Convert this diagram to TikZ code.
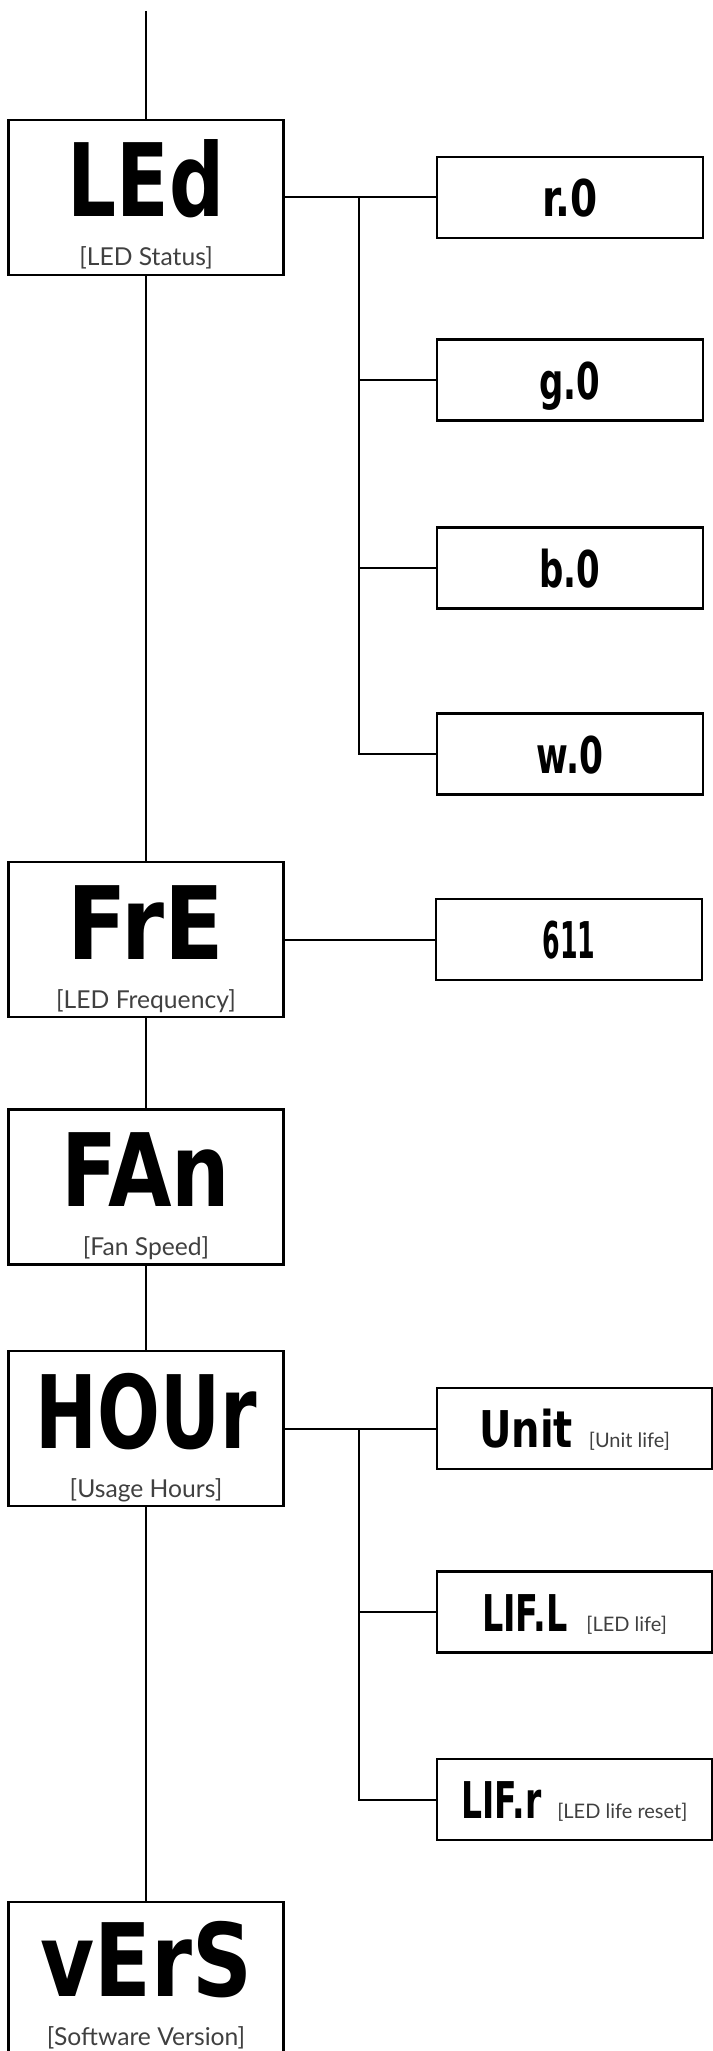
\documentclass[tikz,border=0pt]{standalone}
\usepackage{fontspec}
\setmainfont{Lato}
\newfontfamily\segfont{DejaVu Sans}
\definecolor{labgray}{HTML}{404040}
\newcommand\segtxt[3]{{\segfont\bfseries\addfontfeatures{FakeStretch=#2}\fontsize{#1}{#1}\selectfont #3}}
\newcommand\biglab[1]{{\fontsize{18.5pt}{18.5pt}\selectfont\color{labgray}#1}}
\newcommand\smalllab[1]{{\fontsize{15pt}{15pt}\selectfont\color{labgray}#1}}
\begin{document}
\begin{tikzpicture}[x=0.75pt,y=-0.75pt,
  mainbox/.style={draw, line width=1.9pt, minimum width=206.25pt, minimum height=116.25pt, inner sep=0pt},
  subbox/.style={draw, line width=1.9pt, minimum width=199.5pt, minimum height=60.75pt, inner sep=0pt},
  widebox/.style={draw, line width=1.9pt, minimum width=206.25pt, minimum height=60.75pt, inner sep=0pt},
  wire/.style={line width=1.5pt},
  txt/.style={inner sep=0pt, anchor=base}]
\useasboundingbox (0,0) rectangle (713,2051);

% main boxes
\node[mainbox] (LEd) at (146,197.5) {};
\node[txt] (LEdc) at (146,217) {\segtxt{76pt}{0.76}{LEd}};
\node[txt] (LEdl) at (146,266) {\biglab{[LED Status]}};

\node[mainbox] (FrE) at (146,939.5) {};
\node[txt] (FrEc) at (146,959) {\segtxt{76pt}{0.86}{FrE}};
\node[txt] (FrEl) at (146,1008) {\biglab{[LED Frequency]}};

\node[mainbox] (FAn) at (146,1187) {};
\node[txt] (FAnc) at (146,1206.5) {\segtxt{76pt}{0.81}{FAn}};
\node[txt] (FAnl) at (146,1255.5) {\biglab{[Fan Speed]}};

\node[mainbox] (HOUr) at (146,1428.5) {};
\node[txt] (HOUrc) at (146,1448) {\segtxt{76pt}{0.73}{HOUr}};
\node[txt] (HOUrl) at (146,1497) {\biglab{[Usage Hours]}};

\node[mainbox] (vErS) at (146,1979.5) {};
\node[txt] (vErSc) at (146,1996) {\segtxt{76pt}{0.82}{vErS}};
\node[txt] (vErSl) at (146,2045) {\biglab{[Software Version]}};

% LED children
\node[subbox] (r0) at (570,197.5) {};
\node[txt] (r0c) at (570,216.5) {\segtxt{38pt}{0.77}{r.0}};
\node[subbox] (g0) at (570,380) {};
\node[txt] (g0c) at (570,399) {\segtxt{38pt}{0.67}{g.0}};
\node[subbox] (b0) at (570,568) {};
\node[txt] (b0c) at (570,587) {\segtxt{38pt}{0.67}{b.0}};
\node[subbox] (w0) at (570,754) {};
\node[txt] (w0c) at (570,773) {\segtxt{38pt}{0.68}{w.0}};

% frequency child
\node[subbox] (f611) at (569,939.5) {};
\node[txt] (f611c) at (569,958.5) {\segtxt{38pt}{0.5}{611}};

% hour children
\node[widebox] (Unit) at (574.5,1428.5) {};
\node[txt] (Unitc) at (574.5,1447.5) {\segtxt{38pt}{0.79}{Unit}\hspace{12pt}\smalllab{[Unit life]}};
\node[widebox] (LIFL) at (574.5,1612) {};
\node[txt] (LIFLc) at (574.5,1631) {\segtxt{38pt}{0.66}{LIF.L}\hspace{14pt}\smalllab{[LED life]}};
\node[widebox] (LIFr) at (574.5,1799.5) {};
\node[txt] (LIFrc) at (574.5,1818.5) {\segtxt{38pt}{0.65}{LIF.r}\hspace{12pt}\smalllab{[LED life reset]}};

% main trunk
\coordinate (top) at (146,11);
\draw[wire] (top) -- (LEd.north);
\draw[wire] (LEd.south) -- (FrE.north);
\draw[wire] (FrE.south) -- (FAn.north);
\draw[wire] (FAn.south) -- (HOUr.north);
\draw[wire] (HOUr.south) -- (vErS.north);

% LED branch
\coordinate (j1) at (359,0);
\draw[wire] (LEd.east) -- (LEd.east -| j1) -- (j1 |- w0.west) -- (w0.west);
\draw[wire] (LEd.east -| j1) -- (r0.west);
\draw[wire] (j1 |- g0.west) -- (g0.west);
\draw[wire] (j1 |- b0.west) -- (b0.west);

% frequency branch
\draw[wire] (FrE.east) -- (f611.west);

% hour branch
\draw[wire] (HOUr.east) -- (HOUr.east -| j1) -- (j1 |- LIFr.west) -- (LIFr.west);
\draw[wire] (HOUr.east -| j1) -- (Unit.west);
\draw[wire] (j1 |- LIFL.west) -- (LIFL.west);
\end{tikzpicture}
\end{document}
